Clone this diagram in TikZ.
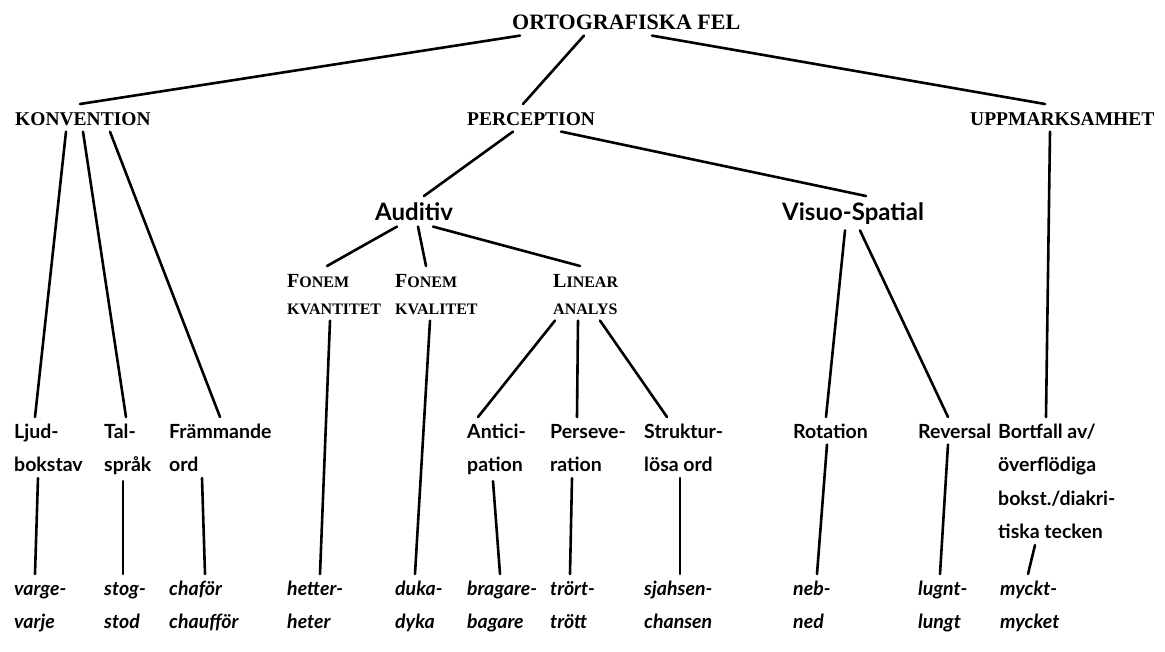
\documentclass[tikz,border=0pt]{standalone}
\usepackage{fontspec}
\setmainfont{Liberation Serif}
\newfontfamily\leaffont{Lato}
\usepackage{tikz}
\usetikzlibrary{positioning}
\tikzset{
    topnode/.style={anchor=north west, inner sep=0pt, font=\fontsize{22}{24}\selectfont\bfseries},
    headnode/.style={anchor=north west, inner sep=0pt, font=\fontsize{19.5}{22}\selectfont\bfseries},
    subnode/.style={anchor=north west, inner sep=0pt, font=\leaffont\fontsize{24}{26}\selectfont\bfseries},
    scnode/.style={anchor=north west, inner sep=0pt, align=left, font=\fontsize{16}{27}\selectfont\bfseries},
    leafnode/.style={anchor=north west, inner sep=0pt, align=left, font=\leaffont\fontsize{19.5}{33.5}\selectfont\bfseries},
    examplenode/.style={anchor=north west, inner sep=0pt, align=left, font=\leaffont\fontsize{19.5}{33.5}\selectfont\bfseries\itshape},
    link/.style={line width=2.6pt, line cap=round}
}
\newcommand{\initcap}[1]{{\fontsize{20}{27}\selectfont #1}}
\newcommand{\capstrut}{\rule{0pt}{15pt}}

\begin{document}
\begin{tikzpicture}[x=1pt, y=-1pt]
    \useasboundingbox[fill=white] (0,0) rectangle (1165,651);

    \node[topnode] (title) at (512,13) {\rule{0pt}{16pt}ORTOGRAFISKA FEL};

    \node[headnode] (konv) at (15,110) {\capstrut KONVENTION};
    \node[headnode] (perc) at (467,110) {\capstrut PERCEPTION};
    \node[headnode] (uppm) at (970,110) {\capstrut UPPMARKSAMHET};

    \node[subnode] (aud) at (375,202) {\rule{0pt}{18pt}Auditiv};
    \node[subnode] (vis) at (782,202) {\rule{0pt}{18pt}Visuo-Spatial};

    \node[scnode] (kvant) at (287,272) {\capstrut\initcap{F}ONEM\\KVANTITET};
    \node[scnode] (kval) at (395,272) {\capstrut\initcap{F}ONEM\\KVALITET};
    \node[scnode] (lin) at (553,272) {\capstrut\initcap{L}INEAR\\ANALYS};

    \node[leafnode] (ljud) at (14,423) {\capstrut Ljud-\\bokstav};
    \node[leafnode] (tal) at (104,423) {\capstrut Tal-\\språk};
    \node[leafnode] (fram) at (169,423) {\capstrut Främmande\\ord};
    \node[leafnode] (antic) at (467,423) {\capstrut Antici-\\pation};
    \node[leafnode] (pers) at (550,423) {\capstrut Perseve-\\ration};
    \node[leafnode] (strukt) at (644,423) {\capstrut Struktur-\\lösa ord};
    \node[leafnode] (rot) at (793,423) {\capstrut Rotation};
    \node[leafnode] (rev) at (918,423) {\capstrut Reversal};
    \node[leafnode] (bort) at (998,423) {\capstrut Bortfall av/\\överflödiga\\bokst./diakri-\\tiska tecken};

    \node[examplenode] (varge) at (14,580) {\capstrut varge-\\varje};
    \node[examplenode] (stog) at (104,580) {\capstrut stog-\\stod};
    \node[examplenode] (chafor) at (169,580) {\capstrut chaför\\chaufför};
    \node[examplenode] (hetter) at (287,580) {\capstrut hetter-\\heter};
    \node[examplenode] (duka) at (395,580) {\capstrut duka-\\dyka};
    \node[examplenode] (bragare) at (467,580) {\capstrut bragare-\\bagare};
    \node[examplenode] (trort) at (550,580) {\capstrut trört-\\trött};
    \node[examplenode] (sjahsen) at (644,580) {\capstrut sjahsen-\\chansen};
    \node[examplenode] (neb) at (793,580) {\capstrut neb-\\ned};
    \node[examplenode] (lugnt) at (918,580) {\capstrut lugnt-\\lungt};
    \node[examplenode] (myckt) at (1000,580) {\capstrut myckt-\\mycket};

    \foreach \a/\da/\b/\db in {
        title/8/konv/65, title/72/perc/56, title/140/uppm/75,
        konv/51/ljud/21, konv/68/tal/22, konv/95/fram/51,
        perc/46/aud/49, perc/94/vis/84, uppm/80/bort/48,
        aud/22/kvant/40, aud/43/kval/31, aud/58/lin/27,
        vis/63/rot/33, vis/78/rev/30,
        kvant/43/hetter/33, kval/35/duka/20,
        lin/2/antic/11, lin/25/pers/27, lin/47/strukt/23,
        ljud/24/varge/21, tal/19/stog/19, fram/33/chafor/36,
        antic/26/bragare/33, pers/22/trort/20, strukt/36/sjahsen/36,
        rot/34/neb/24, rev/30/lugnt/22, bort/37/myckt/28}
        \draw[link] ([xshift=\da pt,yshift=-6pt]\a.south west) -- ([xshift=\db pt,yshift=6pt]\b.north west);
\end{tikzpicture}
\end{document}
